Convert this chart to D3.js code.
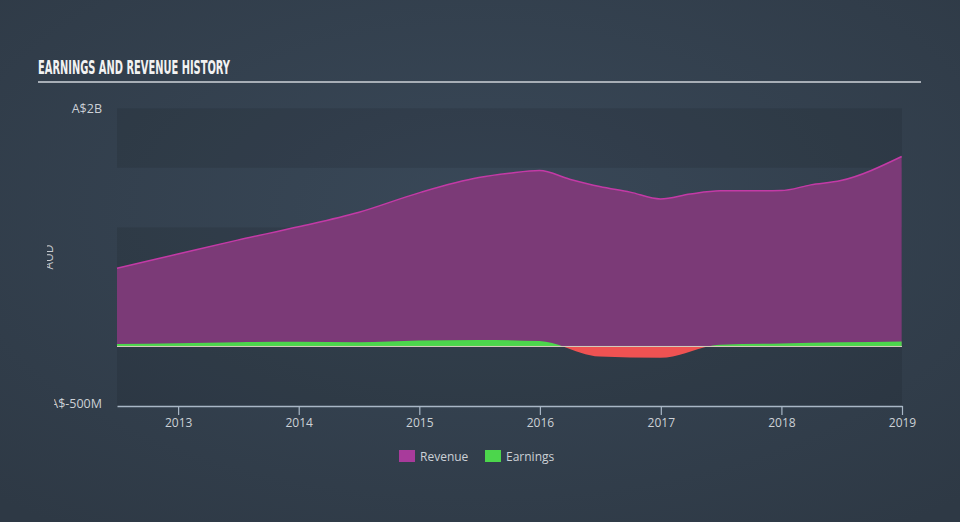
<!DOCTYPE html>
<html>
<head>
<meta charset="utf-8">
<script src="https://cdn.jsdelivr.net/npm/d3@7"></script>
<style>
  html, body { margin: 0; padding: 0; background: #333f4d; }
  svg { display: block; }
  text { font-family: "Open Sans", Lato, sans-serif; }
</style>
</head>
<body>
<svg id="chart" width="960" height="522"></svg>
<script>
// ---- Data (values in A$ billions) ----
const revenueDates = ["2012-06-30","2012-12-31","2013-06-30","2013-12-31","2014-06-30","2014-12-31",
  "2015-06-30","2015-09-30","2015-12-31","2016-03-31","2016-06-30","2016-09-30","2016-12-31",
  "2017-03-31","2017-06-30","2017-12-31","2018-03-31","2018-06-30","2018-12-31"];
const revenueValues = [0.657,0.776,0.893,1.005,1.125,1.29,
  1.418,1.454,1.477,1.405,1.343,1.296,1.239,
  1.28,1.307,1.309,1.357,1.393,1.595];

const earningsDates = ["2012-06-30","2012-12-31","2013-06-30","2013-12-31","2014-06-30","2014-12-31",
  "2015-06-30","2015-12-31","2016-06-30","2016-12-31","2017-06-30","2017-12-31","2018-06-30","2018-12-31"];
const earningsValues = [0.02,0.028,0.035,0.04,0.035,0.05,
  0.055,0.045,-0.085,-0.095,0.015,0.025,0.035,0.042];

const yTickValues = [2, -0.5];
const yTickLabels = ["A$2B", "A$-500M"];
const xTickYears = [2013, 2014, 2015, 2016, 2017, 2018, 2019];
const legendLabels = ["Revenue", "Earnings"];

const parse = d3.timeParse("%Y-%m-%d");
const revenue = revenueDates.map((d, i) => ({date: parse(d), value: revenueValues[i]}));
const earnings = earningsDates.map((d, i) => ({date: parse(d), value: earningsValues[i]}));

// ---- Layout ----
const W = 960, H = 522;
const plot = {left: 117, right: 902, top: 108.3, bottom: 406};
const colors = {
  revFill: "#7b3a77", revLine: "#c33aa6", revSwatch: "#a83b9b",
  green: "#4cd64c", red: "#ef5252", zero: "#d8cfbf"
};
const labelFont = "'Open Sans', Lato, sans-serif";

const svg = d3.select("#chart");
const defs = svg.append("defs");

const bg = defs.append("radialGradient").attr("id", "bg")
  .attr("cx", "50%").attr("cy", "40%").attr("r", "75%");
bg.append("stop").attr("offset", "0%").attr("stop-color", "#394858");
bg.append("stop").attr("offset", "100%").attr("stop-color", "#2e3945");
svg.append("rect").attr("width", W).attr("height", H).attr("fill", "url(#bg)");

const x = d3.scaleTime()
  .domain([parse("2012-06-30"), parse("2019-01-01")])
  .range([plot.left, plot.right]);
const y = d3.scaleLinear().domain([-0.5, 2]).range([plot.bottom, plot.top]);

// Title
svg.append("text")
  .attr("x", 38).attr("y", 74)
  .attr("textLength", 192).attr("lengthAdjust", "spacingAndGlyphs")
  .style("font-family", "'Liberation Sans Narrow', 'DejaVu Sans Condensed', sans-serif")
  .style("font-weight", "bold").style("font-size", "19px")
  .attr("fill", "#f2f2f2")
  .text("EARNINGS AND REVENUE HISTORY");
svg.append("rect").attr("x", 38).attr("y", 81).attr("width", 883).attr("height", 2)
  .attr("fill", "#a7aeb6");

// Background bands
const bandEdges = [2, 1.5, 1, 0.5, 0, -0.5];
for (let i = 0; i < bandEdges.length - 1; i++) {
  svg.append("rect")
    .attr("x", plot.left).attr("width", plot.right - plot.left)
    .attr("y", y(bandEdges[i])).attr("height", y(bandEdges[i + 1]) - y(bandEdges[i]))
    .attr("fill", i % 2 === 0 ? "rgba(0,0,0,0.09)" : "rgba(0,0,0,0.0)");
}

// Revenue area
const revArea = d3.area().x(d => x(d.date)).y0(y(0)).y1(d => y(d.value)).curve(d3.curveMonotoneX);
const revLine = d3.line().x(d => x(d.date)).y(d => y(d.value)).curve(d3.curveMonotoneX);
svg.append("path").datum(revenue).attr("d", revArea).attr("fill", colors.revFill);

// Earnings: green above zero, red below
defs.append("clipPath").attr("id", "above").append("rect")
  .attr("x", plot.left).attr("y", plot.top).attr("width", plot.right - plot.left).attr("height", y(0) - plot.top);
defs.append("clipPath").attr("id", "below").append("rect")
  .attr("x", plot.left).attr("y", y(0)).attr("width", plot.right - plot.left).attr("height", plot.bottom - y(0));
const earnArea = d3.area().x(d => x(d.date)).y0(y(0)).y1(d => y(d.value)).curve(d3.curveMonotoneX);
svg.append("path").datum(earnings).attr("d", earnArea).attr("fill", colors.green).attr("clip-path", "url(#above)");
svg.append("path").datum(earnings).attr("d", earnArea).attr("fill", colors.red).attr("clip-path", "url(#below)");

svg.append("path").datum(revenue).attr("d", revLine).attr("fill", "none")
  .attr("stroke", colors.revLine).attr("stroke-width", 1.5);

// Zero line
svg.append("line").attr("x1", plot.left).attr("x2", plot.right)
  .attr("y1", y(0)).attr("y2", y(0)).attr("stroke", colors.zero).attr("stroke-width", 1);

// X axis
const xAxis = d3.axisBottom(x)
  .tickValues(xTickYears.map(yr => new Date(yr, 0, 1)))
  .tickFormat(d3.timeFormat("%Y"))
  .tickSize(9).tickSizeOuter(0).tickPadding(3);
const gx = svg.append("g").attr("transform", `translate(0,${plot.bottom})`).call(xAxis);
gx.select(".domain").attr("stroke", "#a9b7c6").attr("stroke-width", 1.5);
gx.selectAll(".tick line").attr("stroke", "#a9b7c6").attr("stroke-width", 1.2);
gx.selectAll(".tick text").attr("fill", "#ccd1d6").style("font-size", "12px")
  .style("font-family", labelFont);

// Y labels (the low label's leading "A" is cut off as in the reference)
const labelClip = defs.append("clipPath").attr("id", "labelclip").append("rect")
  .attr("x", 47).attr("y", 0).attr("width", W).attr("height", H);
const yWrap = svg.append("g").attr("clip-path", "url(#labelclip)");
const yAxis = d3.axisLeft(y).tickValues(yTickValues)
  .tickFormat((d, i) => yTickLabels[i]).tickSize(0).tickPadding(15);
const gy = yWrap.append("g").attr("transform", `translate(${plot.left},0)`).call(yAxis);
gy.select(".domain").remove();
gy.selectAll(".tick text").attr("fill", "#ccd1d6").style("font-size", "12.5px")
  .style("font-family", labelFont);
const lowLabel = gy.selectAll(".tick").filter(d => d === -0.5).select("text").attr("dy", "0.15em");
const lowLen = lowLabel.node().getComputedTextLength();
labelClip.attr("x", plot.left - 15 - lowLen + 4);

// Rotated unit title, mostly cut off at the left
defs.append("clipPath").attr("id", "audclip").append("rect")
  .attr("x", 47).attr("y", 0).attr("width", W).attr("height", H);
svg.append("g").attr("clip-path", "url(#audclip)")
  .append("text")
  .attr("transform", "translate(53,257) rotate(-90)")
  .attr("text-anchor", "middle")
  .attr("fill", "#c4c9cf").style("font-size", "12px")
  .text("AUD");

// Legend
const legend = svg.append("g");
const legendItems = [
  {label: legendLabels[0], color: colors.revSwatch, x: 399},
  {label: legendLabels[1], color: colors.green, x: 485}
];
legendItems.forEach(it => {
  legend.append("rect").attr("x", it.x).attr("y", 450).attr("width", 16).attr("height", 12)
    .attr("fill", it.color);
  legend.append("text").attr("x", it.x + 21).attr("y", 460.5)
    .attr("fill", "#ccd1d6").style("font-size", "12px").style("font-family", labelFont)
    .text(it.label);
});
</script>
</body>
</html>
